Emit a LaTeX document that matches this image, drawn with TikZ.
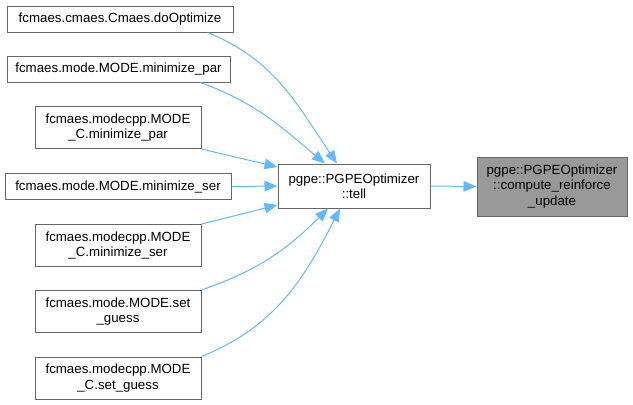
\documentclass[tikz,border=0pt]{standalone}
\usepackage{fontspec}
\setmainfont{Liberation Sans}
\usepackage{tikz}
\usetikzlibrary{arrows.meta}
\definecolor{edgeblue}{HTML}{63B8FF}
\definecolor{boxline}{HTML}{666666}
\definecolor{boxfill}{HTML}{999999}

\begin{document}
\begin{tikzpicture}[
  x=1pt, y=-1pt,
  >={Triangle[length=13pt,width=10.5pt]},
  fn/.style={draw=boxline, line width=1pt, fill=white, align=center, inner sep=2pt,
    font=\fontsize{13.3}{15.5}\selectfont},
  cur/.style={fn, fill=boxfill},
  call/.style={->, draw=edgeblue, line width=1pt, edgeblue}
]
\useasboundingbox (0,0) rectangle (633,405);
\node[fn, minimum width=226pt, minimum height=26pt] (doopt) at (120,19) {fcmaes.cmaes.Cmaes.doOptimize};
\node[fn, minimum width=223pt, minimum height=26pt] (mpar) at (118.5,69) {fcmaes.mode.MODE.minimize\_par};
\node[fn, minimum width=166pt, minimum height=42pt] (cmpar) at (118,127.5) {fcmaes.modecpp.MODE\\\_C.minimize\_par};
\node[fn, minimum width=226pt, minimum height=26pt] (mser) at (118,186.5) {fcmaes.mode.MODE.minimize\_ser};
\node[fn, minimum width=166pt, minimum height=42pt] (cmser) at (118,245.5) {fcmaes.modecpp.MODE\\\_C.minimize\_ser};
\node[fn, minimum width=166pt, minimum height=42pt] (sguess) at (118,311.5) {fcmaes.mode.MODE.set\\\_guess};
\node[fn, minimum width=166pt, minimum height=42pt] (csguess) at (118,378) {fcmaes.modecpp.MODE\\\_C.set\_guess};
\node[fn, minimum width=152pt, minimum height=44pt] (tell) at (354,186) {pgpe::PGPEOptimizer\\::tell};
\node[cur, minimum width=150pt, minimum height=59pt] (cru) at (552,186.5) {pgpe::PGPEOptimizer\\::compute\_reinforce\\\_update};
% callers of tell
\draw[call] ([xshift=-26pt]doopt.south east) to[out=-22,in=124] ([xshift=-17pt]tell.north);
\draw[call] ([xshift=-30pt]mpar.south east) to[out=-20,in=140] ([xshift=-29pt]tell.north);
\draw[call] (cmpar.south east) -- ([yshift=19pt]tell.west);
\draw[call] (mser.east) -- (tell.west);
\draw[call] (cmser.north east) -- ([yshift=-19pt]tell.west);
\draw[call] (sguess.north east) to[out=19,in=-135] ([xshift=-26pt]tell.south);
\draw[call] (csguess.north east) to[out=22,in=-117] ([xshift=-14pt]tell.south);
% tell calls
\draw[call] (tell.east) -- (cru.west);
\end{tikzpicture}
\end{document}
